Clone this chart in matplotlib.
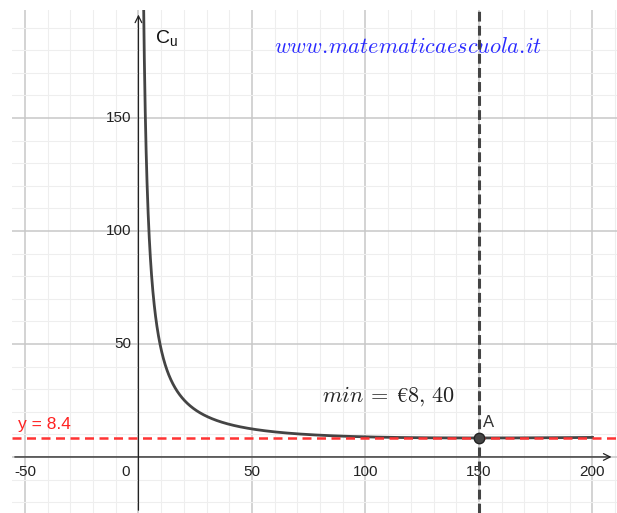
import numpy as np
import matplotlib.pyplot as plt

# unit cost C_u(x) = a*x + b + c/x
coef_a = 0.02
coef_b = 2.4
coef_c = 450.0
x_min_point = 150
y_min_value = 8.4

x_ticks = [-50, 0, 50, 100, 150, 200]
y_ticks = [50, 100, 150]

xs = np.linspace(2.0, 200, 2000)
cu = coef_a * xs + coef_b + coef_c / xs

plt.rcParams['font.family'] = ['Liberation Sans', 'DejaVu Sans']
plt.rcParams['mathtext.fontset'] = 'cm'

fig = plt.figure(figsize=(6.17, 5.13), dpi=100)
ax = fig.add_axes([12 / 617, 0, 605 / 617, 503 / 513])
ax.set_xlim(-55.7, 210.8)
ax.set_ylim(-24.8, 197.8)
for s in ax.spines.values():
    s.set_visible(False)
ax.set_xticks([])
ax.set_yticks([])

# grid
for gx in np.arange(-50, 211, 10):
    major = gx % 50 == 0
    ax.axvline(gx, color='#c8c8c8' if major else '#eeeeee', lw=1.1 if major else 0.8, zorder=0)
for gy in np.arange(-20, 198, 10):
    major = gy % 50 == 0
    ax.axhline(gy, color='#c8c8c8' if major else '#eeeeee', lw=1.1 if major else 0.8, zorder=0)

# axes with arrows
ax.annotate('', xy=(209.6, 0), xytext=(-55.7, 0),
            arrowprops=dict(arrowstyle='->', color='#222222', lw=0.9, mutation_scale=12), zorder=2)
ax.annotate('', xy=(0, 197.0), xytext=(0, -24.8),
            arrowprops=dict(arrowstyle='->', color='#222222', lw=0.9, mutation_scale=12), zorder=2)

for t in x_ticks:
    if t == 0:
        ax.text(-5.5, -6.5, '0', ha='center', va='center', fontsize=11, color='#222222')
    else:
        ax.text(t, -6.5, str(t), ha='center', va='center', fontsize=11, color='#222222')
for t in y_ticks:
    ax.text(-3.0, t, str(t), ha='right', va='center', fontsize=11, color='#222222')

ax.text(7.5, 185, r'C$_\mathregular{u}$', fontsize=14, color='#111111', ha='left', va='center')

# curve
ax.plot(xs, cu, color='#444444', lw=2.0, zorder=3, clip_on=True)

# minimum line
ax.axhline(y_min_value, color='#ff3333', lw=1.8, dashes=(3.6, 2.2), zorder=4)
ax.text(-53.0, 14.3, 'y = 8.4', color='#ff2222', fontsize=12.5, ha='left', va='center')

# vertical dashed line and point A
ax.axvline(x_min_point, color='#444444', lw=2.2, dashes=(3.2, 1.4), zorder=4)
ax.plot([x_min_point], [y_min_value], 'o', ms=7.5, color='#444444', mec='#222222', mew=1, zorder=5)
ax.text(x_min_point + 1.8, 15.3, 'A', fontsize=12, color='#333333', ha='left', va='center')

ax.text(81, 27.0, r'$min\:=\:€8,\,40$', fontsize=16, color='#222222', ha='left', va='center')
ax.text(59.5, 181, r'$www.\!matematicaescuola.\!it$', fontsize=16, color='#2a2aff',
        ha='left', va='center')

fig.savefig('out.png', dpi=100)
